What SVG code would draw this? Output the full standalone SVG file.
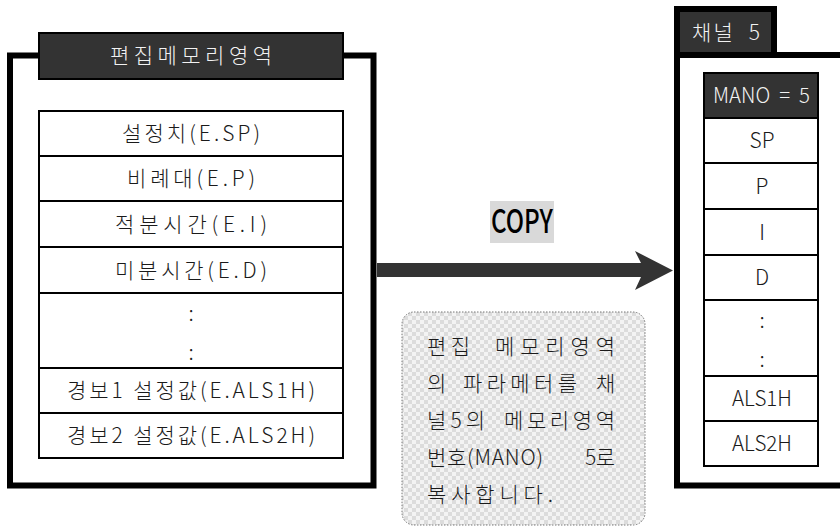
<svg xmlns="http://www.w3.org/2000/svg" width="840" height="528" viewBox="0 0 840 528">
<defs>
<pattern id="checker" width="8" height="8" patternUnits="userSpaceOnUse">
<rect width="8" height="8" fill="#f3f3f3"/>
<rect width="4" height="4" fill="#dcdcdc"/>
<rect x="4" y="4" width="4" height="4" fill="#dcdcdc"/>
</pattern>
</defs>
<style>
text{font-family:"Noto Sans CJK KR","Noto Sans",sans-serif;font-size:21px;font-weight:300;fill:#1a1a1a}
.c{text-anchor:middle}
.w{fill:#f2f2f2}
.frame{fill:none;stroke:#000;stroke-width:6}
.cell{fill:#fff;stroke:#000;stroke-width:2}
.dark{fill:#333;stroke:#000;stroke-width:2}
</style>
<rect width="840" height="528" fill="#fff"/>

<g id="edit-memory">
<rect class="frame" x="10" y="55.5" width="363.5" height="430"/>
<g id="edit-header">
<rect class="dark" x="39" y="33" width="304" height="46"/>
<text class="c w" x="191" y="63" textLength="162" lengthAdjust="spacing">편집메모리영역</text>
</g>
<g id="e-sp"><rect class="cell" x="39" y="111" width="304" height="45"/><text class="c" x="191" y="141" textLength="138" lengthAdjust="spacing">설정치(E.SP)</text></g>
<g id="e-p"><rect class="cell" x="39" y="156" width="304" height="45"/><text class="c" x="191" y="186" textLength="128" lengthAdjust="spacing">비례대(E.P)</text></g>
<g id="e-i"><rect class="cell" x="39" y="201" width="304" height="46"/><text class="c" x="191" y="232" textLength="152" lengthAdjust="spacing">적분시간(E.I)</text></g>
<g id="e-d"><rect class="cell" x="39" y="247" width="304" height="46"/><text class="c" x="191" y="278" textLength="152" lengthAdjust="spacing">미분시간(E.D)</text></g>
<g id="e-dots"><rect class="cell" x="39" y="293" width="304" height="75"/><text class="c" x="191" y="321">:</text><text class="c" x="191" y="360">:</text></g>
<g id="e-als1h"><rect class="cell" x="39" y="368" width="304" height="45"/><text class="c" x="191" y="398" textLength="248" lengthAdjust="spacing">경보1 설정값(E.ALS1H)</text></g>
<g id="e-als2h"><rect class="cell" x="39" y="413" width="304" height="45"/><text class="c" x="191" y="443" textLength="248" lengthAdjust="spacing">경보2 설정값(E.ALS2H)</text></g>
</g>

<g id="channel5">
<path class="frame" d="M677,9 V485.5 H846 M774,55 H846"/>
<g id="channel-tab">
<rect x="677" y="9" width="97" height="46" fill="#333" stroke="#000" stroke-width="6"/>
<text class="w" x="692" y="40" textLength="68" lengthAdjust="spacing" xml:space="preserve">채널  5</text>
</g>
<g id="mano"><rect class="dark" x="704" y="73" width="114" height="45"/><text class="w" x="713" y="103" textLength="97" lengthAdjust="spacingAndGlyphs" xml:space="preserve">MANO  =  5</text></g>
<g id="sp"><rect class="cell" x="704" y="118" width="114" height="45"/><text class="c" x="762" y="148" textLength="25" lengthAdjust="spacingAndGlyphs">SP</text></g>
<g id="p"><rect class="cell" x="704" y="163" width="114" height="46"/><text class="c" x="762" y="194">P</text></g>
<g id="i"><rect class="cell" x="704" y="209" width="114" height="46"/><text class="c" x="762" y="240">I</text></g>
<g id="d"><rect class="cell" x="704" y="255" width="114" height="45"/><text class="c" x="762" y="285">D</text></g>
<g id="dots"><rect class="cell" x="704" y="300" width="114" height="76"/><text class="c" x="762" y="328">:</text><text class="c" x="762" y="367">:</text></g>
<g id="als1h"><rect class="cell" x="704" y="376" width="114" height="45"/><text class="c" x="762" y="406" textLength="60" lengthAdjust="spacingAndGlyphs">ALS1H</text></g>
<g id="als2h"><rect class="cell" x="704" y="421" width="114" height="45"/><text class="c" x="762" y="451" textLength="60" lengthAdjust="spacingAndGlyphs">ALS2H</text></g>
</g>

<g id="connectors">
<path d="M377,263 H641 L635,251 L673,270.5 L635,290 L641,277 H377 Z" fill="#333"/>
</g>

<g id="copy-label">
<rect x="490" y="201" width="64" height="42" fill="#d9d9d9"/>
<text class="c" x="522" y="233" style="font-size:32px;fill:#000;font-weight:500" textLength="62" lengthAdjust="spacingAndGlyphs">COPY</text>
</g>

<g id="note">
<rect x="402" y="312" width="243" height="213" rx="12" fill="url(#checker)" stroke="#777" stroke-width="1" stroke-dasharray="1.5,1.5"/>
<text x="427" y="354" textLength="43" lengthAdjust="spacing">편집</text>
<text x="495" y="354" textLength="120" lengthAdjust="spacing">메모리영역</text>
<text x="427" y="391">의</text>
<text x="463" y="391" textLength="114" lengthAdjust="spacing">파라메터를</text>
<text x="596" y="391">채</text>
<text x="427" y="428" textLength="58" lengthAdjust="spacing">널5의</text>
<text x="504" y="428" textLength="111" lengthAdjust="spacing">메모리영역</text>
<text x="427" y="465" textLength="116" lengthAdjust="spacing">번호(MANO)</text>
<text x="585" y="465" textLength="30" lengthAdjust="spacing">5로</text>
<text x="427" y="502" textLength="126" lengthAdjust="spacing">복사합니다.</text>
</g>
</svg>
